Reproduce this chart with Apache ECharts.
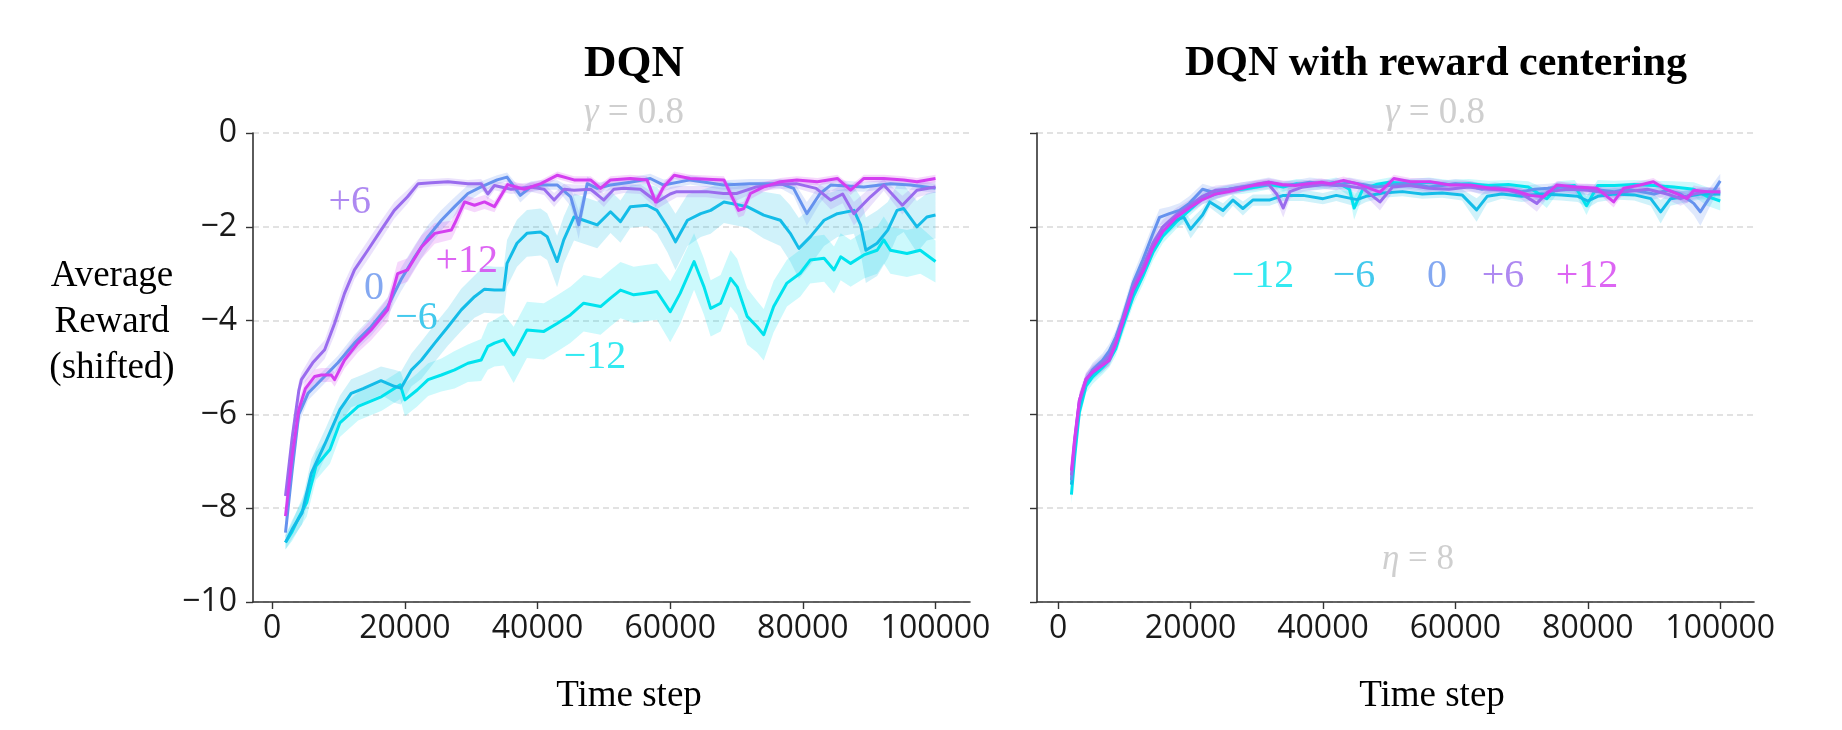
<!DOCTYPE html>
<html><head><meta charset="utf-8">
<script src="https://cdn.jsdelivr.net/npm/echarts@6/dist/echarts.min.js"></script>
<style>html,body{margin:0;padding:0;background:#fff}#c{width:1842px;height:730px}</style>
</head><body><div id="c"></div>
<script>
// ---------- DATA: [time step, mean reward, band half-width] ----------
// Left panel: DQN
const dqn_m12 = [[2000,-8.73,0.15],[3000,-8.5,0.2],[4000,-8.2,0.25],[5200,-7.88,0.3],[6600,-7.1,0.3],[8700,-6.75,0.3],[10200,-6.18,0.3],[12950,-5.83,0.3],[16500,-5.62,0.3],[19300,-5.37,0.3],[20000,-5.69,0.35],[21850,-5.48,0.35],[23500,-5.26,0.35],[25500,-5.16,0.35],[27500,-5.05,0.4],[29500,-4.91,0.4],[31500,-4.84,0.45],[32500,-4.55,0.5],[33500,-4.48,0.5],[34900,-4.41,0.55],[36400,-4.73,0.6],[38400,-4.2,0.6],[40950,-4.23,0.6],[42950,-4.06,0.6],[44950,-3.88,0.6],[46950,-3.63,0.6],[49500,-3.7,0.6],[51000,-3.52,0.6],[52500,-3.35,0.6],[54500,-3.45,0.6],[56000,-3.42,0.6],[58000,-3.38,0.6],[60000,-3.81,0.65],[61500,-3.42,0.65],[63600,-2.74,0.6],[65100,-3.28,0.6],[66100,-3.74,0.6],[67600,-3.63,0.6],[69100,-3.1,0.6],[70100,-3.28,0.6],[71600,-3.91,0.6],[73100,-4.13,0.55],[74100,-4.3,0.55],[75600,-3.7,0.55],[77600,-3.2,0.5],[79600,-2.99,0.5],[81100,-2.71,0.5],[83200,-2.67,0.5],[84700,-2.92,0.5],[85700,-2.64,0.5],[87200,-2.78,0.5],[89200,-2.6,0.5],[91200,-2.5,0.5],[92200,-2.28,0.5],[93200,-2.5,0.5],[95700,-2.57,0.5],[97700,-2.5,0.5],[100000,-2.74,0.45]];
const dqn_m6 = [[2000,-8.73,0.15],[3000,-8.45,0.2],[4500,-8.1,0.25],[5900,-7.25,0.3],[8000,-6.61,0.3],[10200,-5.9,0.3],[11900,-5.55,0.3],[13700,-5.45,0.3],[16400,-5.28,0.3],[18400,-5.4,0.35],[19400,-5.44,0.35],[21000,-5.05,0.35],[22500,-4.84,0.4],[24500,-4.48,0.4],[26500,-4.13,0.4],[28500,-3.77,0.45],[30500,-3.49,0.45],[32000,-3.33,0.5],[33500,-3.35,0.5],[34900,-3.35,0.5],[35400,-2.78,0.5],[36900,-2.35,0.5],[38400,-2.14,0.5],[40450,-2.11,0.5],[41450,-2.21,0.5],[42950,-2.74,0.55],[43950,-2.28,0.5],[45500,-1.79,0.5],[46950,-1.86,0.5],[49000,-1.96,0.5],[51000,-1.68,0.45],[52500,-1.89,0.45],[54000,-1.57,0.45],[56500,-1.54,0.45],[58000,-1.65,0.5],[59600,-2.0,0.55],[60800,-2.32,0.6],[62600,-1.86,0.55],[64600,-1.72,0.5],[66100,-1.65,0.5],[68100,-1.47,0.45],[71600,-1.57,0.45],[74100,-1.75,0.5],[76600,-1.86,0.55],[78100,-2.14,0.6],[79400,-2.46,0.65],[81150,-2.21,0.6],[83200,-1.86,0.55],[85200,-1.72,0.5],[87700,-1.65,0.5],[88700,-1.96,0.6],[89500,-2.5,0.7],[91200,-2.35,0.7],[92800,-2.07,0.6],[94200,-1.65,0.55],[95200,-1.61,0.5],[97200,-2.0,0.55],[98700,-1.79,0.5],[100000,-1.75,0.5]];
const dqn_0 = [[2000,-8.52,0.15],[3000,-7.2,0.2],[4000,-6.0,0.2],[5400,-5.55,0.15],[7400,-5.26,0.15],[9900,-4.9,0.15],[12400,-4.48,0.18],[14900,-4.13,0.2],[17400,-3.7,0.2],[19400,-3.13,0.25],[21500,-2.64,0.25],[23500,-2.21,0.25],[25500,-1.86,0.22],[27500,-1.57,0.2],[29500,-1.29,0.18],[31500,-1.15,0.12],[33900,-1.0,0.1],[35400,-0.94,0.1],[37400,-1.33,0.15],[39000,-1.15,0.12],[40500,-1.11,0.1],[43000,-1.11,0.1],[45000,-1.36,0.2],[46200,-1.96,0.3],[47500,-1.08,0.15],[49000,-1.18,0.12],[51000,-1.11,0.1],[54000,-1.05,0.1],[57000,-0.97,0.1],[59000,-1.11,0.12],[63000,-1.0,0.1],[68000,-1.11,0.1],[72000,-1.08,0.1],[76600,-1.08,0.1],[78600,-1.18,0.15],[80600,-1.72,0.25],[82600,-1.29,0.2],[84200,-1.11,0.12],[89200,-1.15,0.1],[93200,-1.08,0.1],[96200,-1.11,0.1],[100000,-1.18,0.1]];
const dqn_p6 = [[2000,-7.74,0.15],[3000,-6.5,0.2],[4000,-5.5,0.2],[4400,-5.26,0.15],[6100,-4.9,0.2],[7900,-4.62,0.2],[9400,-4.06,0.25],[10900,-3.42,0.25],[12400,-2.92,0.2],[14400,-2.5,0.2],[16400,-2.07,0.2],[18400,-1.65,0.18],[20400,-1.36,0.15],[22000,-1.08,0.1],[24000,-1.06,0.08],[26500,-1.04,0.08],[29500,-1.08,0.08],[31500,-1.08,0.1],[32500,-1.3,0.12],[33500,-1.12,0.1],[36000,-1.2,0.1],[39000,-1.15,0.1],[41000,-1.2,0.12],[42500,-1.43,0.15],[44000,-1.2,0.12],[45500,-1.22,0.12],[48000,-1.2,0.1],[50000,-1.43,0.15],[51500,-1.2,0.12],[53000,-1.18,0.1],[55500,-1.2,0.1],[58000,-1.47,0.15],[60000,-1.3,0.15],[61000,-1.25,0.12],[65500,-1.25,0.12],[68000,-1.29,0.12],[70000,-1.29,0.15],[73000,-1.15,0.1],[76000,-1.1,0.1],[79000,-1.08,0.1],[82000,-1.18,0.12],[84200,-1.43,0.2],[86000,-1.3,0.2],[87700,-1.72,0.25],[90200,-1.36,0.2],[92200,-1.11,0.12],[95000,-1.54,0.2],[97200,-1.22,0.15],[100000,-1.15,0.12]];
const dqn_p12 = [[2000,-8.17,0.15],[3000,-6.9,0.2],[4000,-5.9,0.2],[5000,-5.45,0.18],[6400,-5.19,0.15],[7400,-5.16,0.15],[8900,-5.16,0.15],[9400,-5.26,0.15],[10900,-4.84,0.18],[12900,-4.48,0.2],[14900,-4.2,0.22],[17400,-3.77,0.25],[18900,-3.0,0.25],[20400,-2.92,0.25],[22500,-2.43,0.25],[24500,-2.14,0.22],[27000,-2.07,0.2],[27500,-1.93,0.2],[29000,-1.47,0.15],[30500,-1.54,0.15],[32000,-1.47,0.15],[33500,-1.57,0.12],[35500,-1.1,0.1],[38000,-1.2,0.1],[40500,-1.08,0.08],[43000,-0.9,0.08],[45500,-1.0,0.08],[48000,-1.0,0.08],[49500,-1.18,0.1],[51000,-1.0,0.08],[54000,-0.97,0.08],[56500,-1.0,0.08],[57800,-1.47,0.12],[59000,-1.15,0.1],[60600,-0.9,0.08],[63000,-0.97,0.08],[68100,-1.0,0.08],[69100,-1.3,0.12],[70300,-1.65,0.15],[71100,-1.61,0.15],[72100,-1.29,0.12],[74100,-1.15,0.1],[76600,-1.04,0.08],[79100,-1.0,0.08],[82200,-1.04,0.08],[85200,-0.97,0.08],[87200,-1.22,0.1],[89200,-0.97,0.08],[92200,-0.97,0.08],[95200,-1.0,0.08],[97200,-1.04,0.08],[100000,-0.97,0.08]];

// Right panel: DQN with reward centering
const rc_m12 = [[2000,-7.71,0.2],[2500,-6.9,0.2],[3200,-5.95,0.18],[4200,-5.4,0.15],[5200,-5.2,0.15],[6700,-5.0,0.15],[7700,-4.85,0.15],[8700,-4.6,0.15],[9700,-4.15,0.18],[11300,-3.5,0.18],[12800,-3.05,0.18],[14300,-2.55,0.18],[15800,-2.2,0.15],[17800,-1.9,0.15],[19800,-1.65,0.12],[21800,-1.4,0.12],[23800,-1.3,0.12],[25800,-1.22,0.1],[27800,-1.2,0.1],[30000,-1.15,0.1],[32000,-1.1,0.1],[34000,-1.15,0.1],[36000,-1.08,0.1],[38000,-1.12,0.1],[40000,-1.1,0.1],[42000,-1.05,0.1],[44000,-1.2,0.15],[44700,-1.6,0.25],[46000,-1.2,0.15],[48000,-1.1,0.1],[50000,-1.05,0.1],[53000,-1.08,0.1],[56000,-1.05,0.1],[59000,-1.1,0.1],[62000,-1.08,0.1],[65000,-1.12,0.1],[68000,-1.1,0.1],[71000,-1.15,0.12],[73800,-1.4,0.2],[75500,-1.15,0.12],[78000,-1.12,0.12],[79800,-1.55,0.2],[81500,-1.12,0.12],[84000,-1.12,0.1],[87000,-1.1,0.1],[90000,-1.12,0.1],[93000,-1.15,0.12],[96000,-1.2,0.15],[98000,-1.35,0.2],[100000,-1.45,0.2]];
const rc_m6 = [[2000,-7.5,0.2],[2500,-6.7,0.2],[3200,-5.8,0.18],[4200,-5.3,0.15],[5200,-5.12,0.15],[6700,-4.95,0.15],[7700,-4.8,0.15],[8700,-4.5,0.15],[9700,-4.1,0.18],[11300,-3.4,0.18],[12800,-2.95,0.18],[14300,-2.45,0.18],[15800,-2.1,0.15],[17800,-1.85,0.15],[19000,-1.8,0.15],[20000,-2.05,0.2],[21800,-1.75,0.15],[22900,-1.47,0.12],[24900,-1.65,0.15],[26400,-1.43,0.12],[27900,-1.61,0.15],[29400,-1.43,0.12],[31900,-1.43,0.12],[34000,-1.33,0.12],[37000,-1.33,0.12],[40000,-1.4,0.12],[42000,-1.33,0.12],[45100,-1.42,0.15],[46500,-1.35,0.12],[49000,-1.28,0.1],[52000,-1.25,0.1],[55000,-1.3,0.1],[58000,-1.28,0.1],[61000,-1.32,0.12],[63200,-1.64,0.25],[64800,-1.35,0.15],[67000,-1.3,0.1],[70000,-1.35,0.12],[73000,-1.3,0.12],[76000,-1.32,0.12],[78500,-1.35,0.12],[80000,-1.45,0.15],[81500,-1.35,0.12],[84000,-1.3,0.12],[87000,-1.32,0.12],[89500,-1.4,0.15],[91000,-1.68,0.25],[92500,-1.4,0.15],[95000,-1.35,0.12],[97000,-1.3,0.12],[100000,-1.3,0.12]];
const rc_0 = [[2000,-7.4,0.2],[2500,-6.6,0.2],[3200,-5.75,0.18],[4200,-5.3,0.15],[5200,-5.05,0.15],[6700,-4.85,0.15],[7700,-4.65,0.15],[8700,-4.35,0.15],[9700,-3.95,0.18],[11300,-3.2,0.18],[12800,-2.7,0.2],[14300,-2.15,0.2],[15300,-1.8,0.18],[16800,-1.72,0.15],[18300,-1.65,0.15],[19800,-1.5,0.15],[21800,-1.2,0.12],[23800,-1.28,0.12],[25800,-1.2,0.1],[27800,-1.15,0.1],[29800,-1.1,0.1],[31800,-1.05,0.1],[34000,-1.12,0.1],[36000,-1.1,0.1],[38000,-1.05,0.1],[40000,-1.08,0.1],[42000,-1.12,0.1],[44000,-1.05,0.1],[46000,-1.1,0.1],[48000,-1.15,0.1],[50000,-1.12,0.1],[52000,-1.08,0.1],[54000,-1.1,0.1],[56000,-1.15,0.1],[58000,-1.12,0.1],[60000,-1.08,0.1],[62000,-1.12,0.1],[64000,-1.2,0.12],[66000,-1.15,0.1],[68000,-1.2,0.1],[70000,-1.25,0.12],[72000,-1.2,0.1],[74000,-1.18,0.1],[76000,-1.15,0.1],[78000,-1.2,0.1],[80000,-1.18,0.1],[82000,-1.22,0.12],[84000,-1.25,0.12],[86000,-1.2,0.1],[88000,-1.25,0.12],[90000,-1.3,0.12],[92000,-1.22,0.12],[94000,-1.3,0.15],[96000,-1.5,0.25],[97000,-1.68,0.3],[98500,-1.35,0.2],[100000,-1.02,0.15]];
const rc_p6 = [[2000,-7.3,0.2],[2500,-6.55,0.2],[3200,-5.7,0.18],[4200,-5.25,0.15],[5200,-5.08,0.15],[6700,-4.9,0.15],[7700,-4.75,0.15],[8700,-4.45,0.15],[9700,-4.0,0.18],[11300,-3.3,0.18],[12800,-2.85,0.18],[14300,-2.35,0.18],[15800,-2.0,0.15],[17800,-1.75,0.15],[19800,-1.55,0.12],[21800,-1.35,0.12],[23800,-1.22,0.1],[25800,-1.2,0.1],[27800,-1.15,0.1],[29800,-1.12,0.1],[31800,-1.1,0.1],[33000,-1.3,0.15],[34000,-1.6,0.2],[35000,-1.25,0.15],[37000,-1.15,0.1],[40000,-1.1,0.1],[43000,-1.12,0.1],[46000,-1.18,0.1],[48600,-1.47,0.18],[50500,-1.15,0.12],[53000,-1.12,0.1],[56000,-1.18,0.1],[59000,-1.2,0.1],[62000,-1.15,0.1],[65000,-1.2,0.1],[68000,-1.22,0.1],[70000,-1.3,0.12],[72300,-1.5,0.18],[74000,-1.25,0.12],[77000,-1.2,0.1],[80000,-1.22,0.1],[83000,-1.28,0.12],[86000,-1.25,0.1],[89000,-1.2,0.1],[92000,-1.3,0.12],[94000,-1.4,0.15],[96000,-1.3,0.12],[98000,-1.25,0.1],[100000,-1.25,0.1]];
const rc_p12 = [[2000,-7.2,0.2],[2500,-6.5,0.2],[3200,-5.7,0.15],[4200,-5.25,0.12],[5200,-5.1,0.12],[6700,-4.95,0.12],[7700,-4.85,0.12],[8700,-4.5,0.15],[9700,-4.05,0.15],[11300,-3.35,0.15],[12800,-2.95,0.15],[14300,-2.45,0.15],[15800,-2.1,0.12],[17800,-1.8,0.12],[19800,-1.6,0.1],[21800,-1.42,0.1],[23800,-1.3,0.1],[25800,-1.25,0.08],[27800,-1.18,0.08],[29800,-1.1,0.08],[31800,-1.05,0.08],[33800,-1.1,0.08],[35800,-1.12,0.08],[37800,-1.08,0.08],[39800,-1.05,0.08],[41100,-1.08,0.08],[43100,-1.01,0.08],[45100,-1.08,0.08],[48600,-1.26,0.1],[50700,-0.97,0.08],[53200,-1.04,0.08],[56200,-1.04,0.08],[59200,-1.11,0.08],[62300,-1.11,0.08],[65300,-1.18,0.08],[68800,-1.22,0.08],[71300,-1.33,0.1],[73300,-1.36,0.1],[75300,-1.11,0.08],[78300,-1.15,0.08],[81400,-1.18,0.08],[83900,-1.47,0.12],[85400,-1.18,0.1],[87900,-1.11,0.08],[89900,-1.04,0.08],[91500,-1.18,0.08],[93500,-1.3,0.1],[95000,-1.4,0.1],[96000,-1.22,0.1],[98000,-1.25,0.08],[100000,-1.26,0.08]];

// Curve names (reward shift), colours, tick values
const shiftNames = ['\u221212', '\u22126', '0', '+6', '+12'];
const shiftColors = ['#00e3ee', '#14bce8', '#6592ee', '#9a6cee', '#d43ef0'];
const xTicks = [0, 20000, 40000, 60000, 80000, 100000];
// Curve-label anchors in data space: [x, y]
const leftLabelPos = [[48670,-4.78],[21750,-3.96],[15350,-3.31],[11700,-1.48],[29320,-2.74]];
const rightLabelPos = [[30940,-3.06],[44680,-3.06],[57220,-3.06],[67190,-3.06],[79880,-3.06]];

const leftSets = [dqn_m12, dqn_m6, dqn_0, dqn_p6, dqn_p12];
const rightSets = [rc_m12, rc_m6, rc_0, rc_p6, rc_p12];

// ---------- helpers ----------
const SERIF = '"Liberation Serif", "DejaVu Serif", serif';
const SANS = '"Open Sans", "Noto Sans", sans-serif';
function rgba(hex, a) {
  const n = parseInt(hex.slice(1), 16);
  return `rgba(${(n>>16)&255},${(n>>8)&255},${n&255},${a})`;
}
function bandSeries(arr, color, idx) {
  return {
    type: 'custom', xAxisIndex: idx, yAxisIndex: idx, silent: true, z: 1,
    data: [[arr[0][0], arr[0][1]]],
    renderItem: function (params, api) {
      const pts = [];
      for (let i = 0; i < arr.length; i++) pts.push(api.coord([arr[i][0], arr[i][1] + arr[i][2]]));
      for (let i = arr.length - 1; i >= 0; i--) pts.push(api.coord([arr[i][0], arr[i][1] - arr[i][2]]));
      return { type: 'polygon', shape: { points: pts }, style: { fill: rgba(color, 0.2), stroke: null } };
    }
  };
}
function lineSeries(arr, color, idx) {
  return {
    type: 'line', xAxisIndex: idx, yAxisIndex: idx, silent: true, z: 3,
    data: arr.map(d => [d[0], d[1]]), showSymbol: false, symbol: 'none',
    lineStyle: { color: color, width: 3, join: 'round' }, itemStyle: { color: color }
  };
}
function labelSeries(pos, idx) {
  return {
    type: 'scatter', xAxisIndex: idx, yAxisIndex: idx, silent: true, z: 5,
    symbolSize: 1, itemStyle: { color: 'transparent' },
    data: pos.map((p, i) => ({
      value: p, name: shiftNames[i],
      label: { show: true, position: 'inside', formatter: shiftNames[i], color: shiftColors[i],
               fontFamily: SERIF, fontSize: 40 }
    }))
  };
}
const fmt = v => String(v).replace('-', '\u2212');

function xAxis(idx, min, max) {
  return {
    type: 'value', gridIndex: idx, min: min, max: max,
    axisLine: { show: true, onZero: false, lineStyle: { color: '#333', width: 1.6 } },
    axisTick: { show: true, length: 7, lineStyle: { color: '#333', width: 1.4 }, customValues: xTicks },
    axisLabel: { show: true, color: '#1a1a1a', fontFamily: SANS, fontSize: 32, margin: 11,
                 customValues: xTicks, formatter: fmt },
    splitLine: { show: false }
  };
}
function yAxis(idx, showLabels) {
  return {
    type: 'value', gridIndex: idx, min: -10, max: 0, interval: 2,
    axisLine: { show: true, onZero: false, lineStyle: { color: '#333', width: 1.6 } },
    axisTick: { show: true, length: 7, lineStyle: { color: '#333', width: 1.4 } },
    axisLabel: { show: showLabels, color: '#1a1a1a', fontFamily: SANS, fontSize: 32, margin: 16, formatter: fmt },
    splitLine: { show: true, lineStyle: { color: '#d9d9d9', width: 1.5, type: [6, 4] } }
  };
}
function txt(text, x, y, size, opts) {
  opts = opts || {};
  return {
    type: 'text', x: x, y: y, silent: true, z: 10,
    style: Object.assign({
      text: text, fill: opts.fill || '#000',
      font: (opts.weight || 'normal') + ' ' + size + 'px ' + SERIF,
      textAlign: 'center', textVerticalAlign: 'middle', align: 'center', verticalAlign: 'middle',
      lineHeight: opts.lineHeight || size
    }, opts.rich ? { rich: opts.rich } : {})
  };
}

const series = [];
leftSets.forEach((s, i) => series.push(bandSeries(s, shiftColors[i], 0)));
rightSets.forEach((s, i) => series.push(bandSeries(s, shiftColors[i], 1)));
leftSets.forEach((s, i) => series.push(lineSeries(s, shiftColors[i], 0)));
rightSets.forEach((s, i) => series.push(lineSeries(s, shiftColors[i], 1)));
series.push(labelSeries(leftLabelPos, 0));
series.push(labelSeries(rightLabelPos, 1));

const gray = '#cfcfcf';
const italicG = sz => ({ g: { fontStyle: 'italic', fontFamily: SERIF, fontSize: sz, fill: gray, color: gray } });

const chart = echarts.init(document.getElementById('c'), null, { renderer: 'canvas' });
chart.setOption({
  backgroundColor: '#ffffff',
  animation: false,
  grid: [
    { left: 253, right: 872, top: 133, bottom: 128, containLabel: false },
    { left: 1037, right: 88, top: 133, bottom: 128, containLabel: false }
  ],
  xAxis: [xAxis(0, -2900, 105200), xAxis(1, -3200, 105100)],
  yAxis: [yAxis(0, true), yAxis(1, false)],
  series: series,
  graphic: [
    txt('DQN', 634, 64, 45, { weight: 'bold' }),
    txt('DQN with reward centering', 1436, 64, 42, { weight: 'bold' }),
    txt('{g|\u03b3} = 0.8', 634, 113, 37, { fill: gray, rich: italicG(37) }),
    txt('{g|\u03b3} = 0.8', 1435, 113, 37, { fill: gray, rich: italicG(37) }),
    txt('{g|\u03b7} = 8', 1418, 560, 35, { fill: gray, rich: italicG(35) }),
    txt('Average\nReward\n(shifted)', 112, 322, 37, { lineHeight: 46 }),
    txt('Time step', 629, 696, 37),
    txt('Time step', 1432, 696, 37)
  ]
});
</script></body></html>
